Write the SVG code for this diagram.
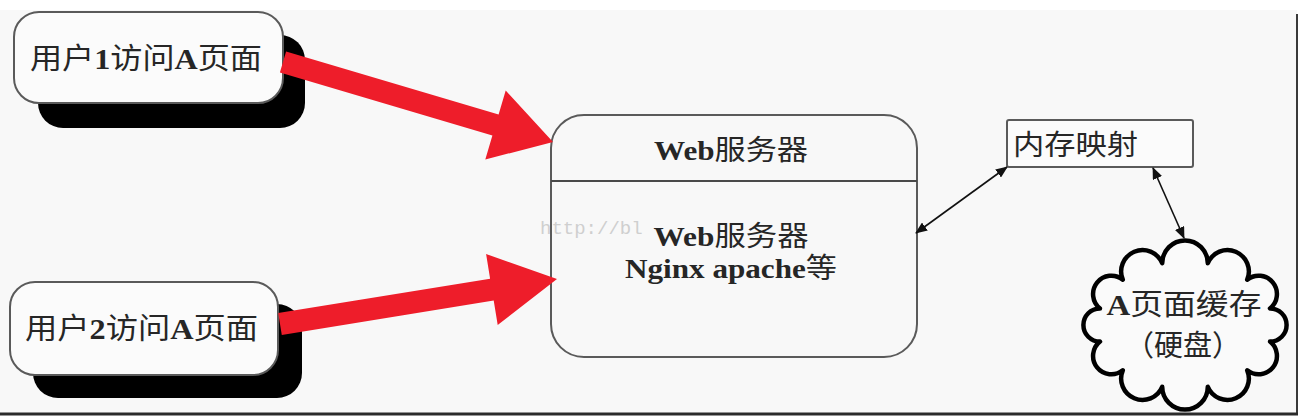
<svg xmlns="http://www.w3.org/2000/svg" width="1300" height="416" viewBox="0 0 1300 416">
<defs>
<style>
.t{font-family:"Liberation Serif","Noto Sans CJK SC",serif;fill:#262626;}
.box{fill:#fbfbfb;stroke:#5a5a5a;stroke-width:2;}
.shadow{fill:#000;}
.red{fill:#ee1d2a;}
.thin{stroke:#111;stroke-width:1.6;fill:none;marker-start:url(#ah);marker-end:url(#ah);}
.lat{font-weight:bold;}
</style>
<marker id="ah" viewBox="0 0 12 10" refX="11" refY="5" markerWidth="12" markerHeight="10" markerUnits="userSpaceOnUse" orient="auto-start-reverse">
<path d="M0,0 L12,5 L0,10 Z" fill="#111"/>
</marker>
</defs>
<rect x="0" y="0" width="1300" height="416" fill="#ffffff"/>
<rect x="0" y="10" width="1297" height="403" fill="#f8f8f8"/>
<line x1="1297" y1="14" x2="1297" y2="414" stroke="#3a3a3a" stroke-width="2"/>
<line x1="0" y1="414" x2="1298" y2="414" stroke="#2a2a2a" stroke-width="3"/>
<text x="540" y="234" font-size="19" style="fill:#cfcfcf;font-family:'Liberation Mono',monospace">http://bl</text>

<g id="user1">
<rect class="shadow" x="38" y="35" width="267" height="93" rx="25"/>
<rect class="box" x="14" y="12" width="269" height="91" rx="25"/>
<text class="t" x="146" y="69" font-size="29" text-anchor="middle" textLength="232" lengthAdjust="spacingAndGlyphs">用户<tspan class="lat">1</tspan>访问<tspan class="lat">A</tspan>页面</text>
</g>

<g id="user2">
<rect class="shadow" x="33" y="304" width="269" height="94" rx="25"/>
<rect class="box" x="10" y="282" width="268" height="93" rx="25"/>
<text class="t" x="141.5" y="339" font-size="29" text-anchor="middle" textLength="233" lengthAdjust="spacingAndGlyphs">用户<tspan class="lat">2</tspan>访问<tspan class="lat">A</tspan>页面</text>
</g>

<g id="webserver">
<rect x="551" y="115" width="366" height="242" rx="33" fill="none" stroke="#5a5a5a" stroke-width="2"/>
<line x1="551" y1="181" x2="917" y2="181" stroke="#4a4a4a" stroke-width="2"/>
<text class="t" x="731" y="160" font-size="28" text-anchor="middle" textLength="154" lengthAdjust="spacingAndGlyphs"><tspan class="lat">Web</tspan>服务器</text>
<text class="t" x="731" y="246" font-size="28" text-anchor="middle" textLength="155" lengthAdjust="spacingAndGlyphs"><tspan class="lat">Web</tspan>服务器</text>
<text class="t" x="731" y="278" font-size="28" text-anchor="middle" textLength="212" lengthAdjust="spacingAndGlyphs"><tspan class="lat">Nginx apache</tspan>等</text>
</g>

<g id="memmap">
<rect x="1007" y="120" width="186" height="47" rx="2" fill="#fbfbfb" stroke="#5a5a5a" stroke-width="2"/>
<text class="t" x="1013" y="155" font-size="28" textLength="125" lengthAdjust="spacingAndGlyphs">内存映射</text>
</g>

<g id="cache">
<path d="M1100,341.6 A1,1 0 0 1 1100,308.4 A1,1 0 0 1 1122.8,279.7 A1,1 0 0 1 1162.2,263.2 A1,1 0 0 1 1207.8,263.2 A1,1 0 0 1 1247.2,279.7 A1,1 0 0 1 1270,308.4 A1,1 0 0 1 1270,341.6 A1,1 0 0 1 1247.2,370.3 A1,1 0 0 1 1207.8,386.8 A1,1 0 0 1 1162.2,386.8 A1,1 0 0 1 1122.8,370.3 A1,1 0 0 1 1100,341.6 Z" fill="#fafafa" stroke="#000" stroke-width="4.5" stroke-linejoin="round"/>
<text class="t" x="1184" y="315" font-size="29" text-anchor="middle" textLength="155" lengthAdjust="spacingAndGlyphs"><tspan class="lat">A</tspan>页面缓存</text>
<text class="t" x="1183" y="356" font-size="29" text-anchor="middle" textLength="116" lengthAdjust="spacingAndGlyphs">（硬盘）</text>
</g>

<g id="connectors">
<polygon class="red" points="286.1,51.5 498.6,114.5 505.7,90.5 553,142 485.3,159.5 492.4,135.5 279.9,72.5"/>
<polygon class="red" points="278.2,313.1 490.1,278.7 486.1,254.1 557,279 497.7,325.1 493.7,300.5 281.8,334.9"/>
<line class="thin" x1="916" y1="233" x2="1007" y2="167"/>
<line class="thin" x1="1153" y1="168" x2="1184" y2="238"/>
</g>
</svg>
